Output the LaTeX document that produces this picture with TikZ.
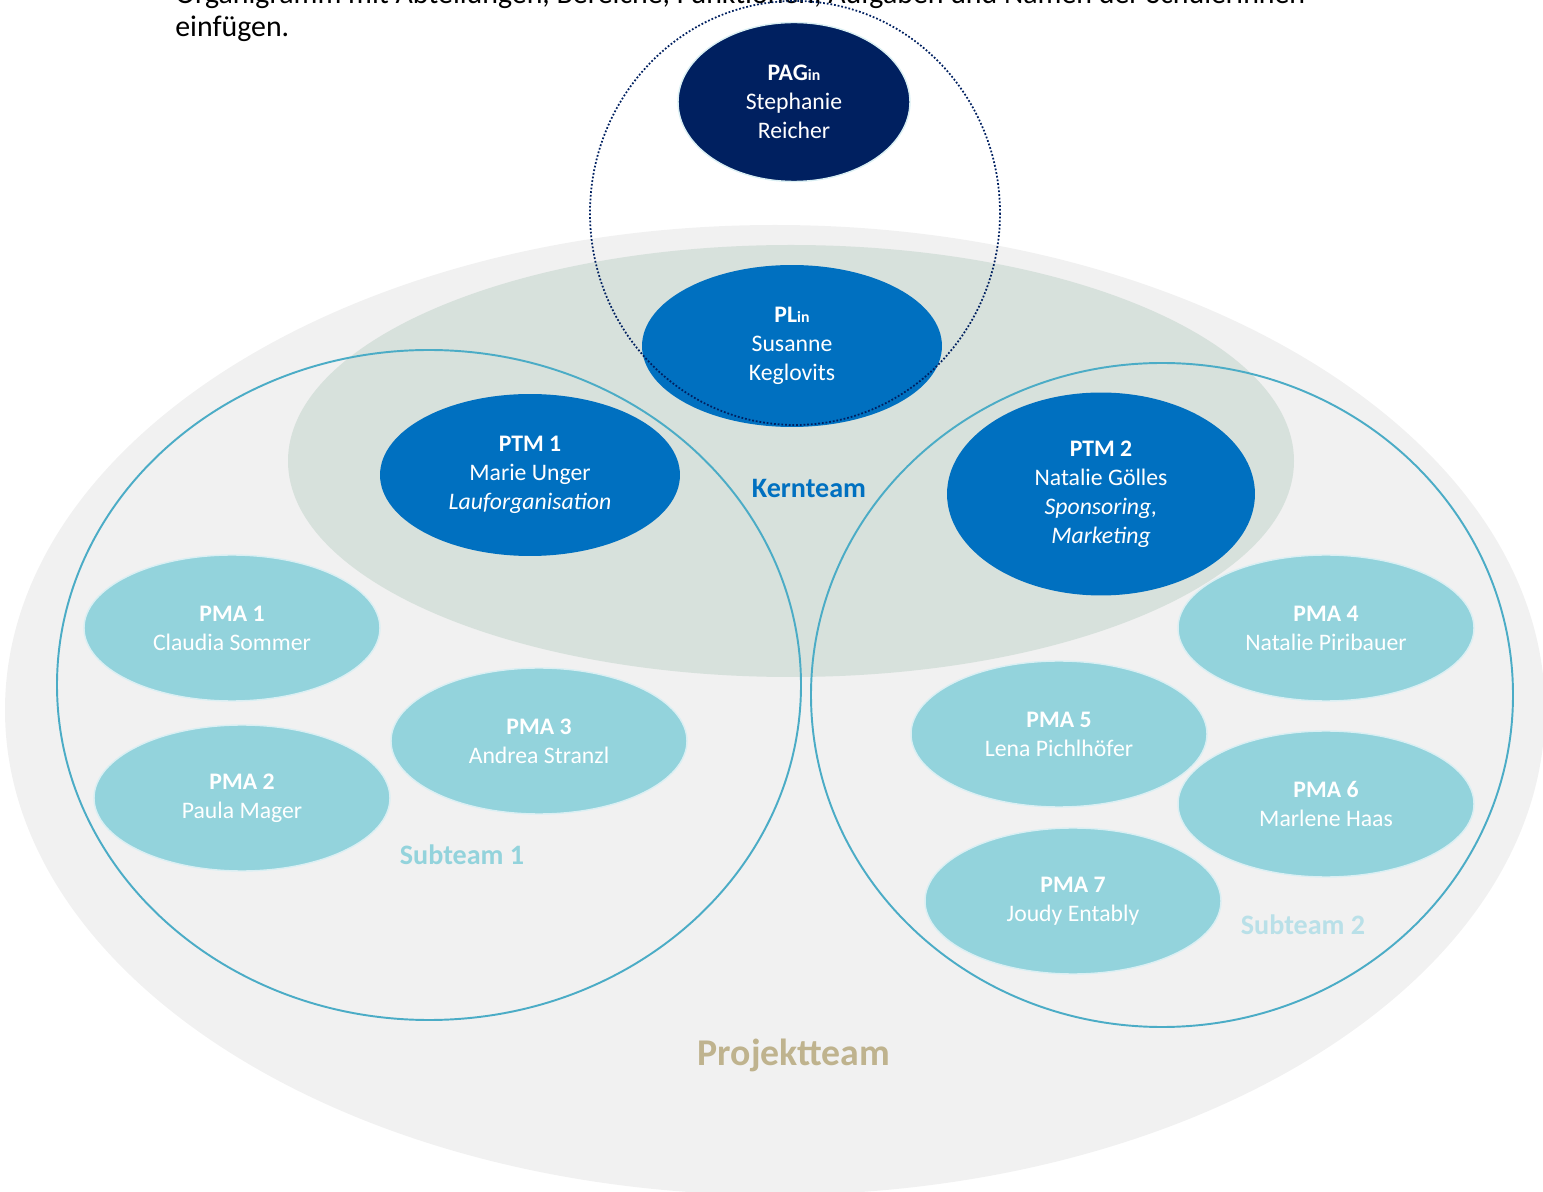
\documentclass[tikz,border=0pt]{standalone}
\usepackage{fontspec}
\setmainfont{Carlito}
\usepackage{tikz}
\usetikzlibrary{shapes.geometric}
\definecolor{pagblau}{HTML}{002060}
\definecolor{kernblau}{HTML}{0070C0}
\definecolor{pmafarbe}{HTML}{93D3DC}
\definecolor{pmarand}{HTML}{DAEFF3}
\definecolor{subrand}{HTML}{4BACC6}
\definecolor{subzwei}{HTML}{B9E0E8}
\definecolor{kerngrau}{HTML}{D7E1DC}
\definecolor{projgrau}{HTML}{F1F1F1}
\definecolor{projtext}{HTML}{BFB38E}

\begin{document}
\begin{tikzpicture}[x=0.02cm,y=-0.02cm,
  person/.style={ellipse,inner sep=0pt,align=center,text=white,
    font=\fontsize{13.5}{16.5}\selectfont},
  pag/.style={person,fill=pagblau,draw=pmarand,line width=0.8pt,
    minimum width=4.64cm,minimum height=3.18cm},
  ptm/.style={person,fill=kernblau,minimum width=6cm,minimum height=3.24cm},
  pma/.style={person,fill=pmafarbe,draw=pmarand,line width=0.8pt,
    minimum width=5.92cm,minimum height=2.92cm},
  teamlabel/.style={font=\fontsize{16}{19}\selectfont\bfseries},
  kopf/.style={anchor=base west,inner sep=0pt,font=\fontsize{17}{20}\selectfont}]
\useasboundingbox (0,0) rectangle (1543,1192);

% Kopfzeile
\node[kopf] (zeile1) at (175,4) {Organigramm mit Abteilungen, Bereiche, Funktionen, Aufgaben und Namen der Schülerinnen};
\node[kopf] (zeile2) at (175,37) {einfügen.};

% Teams
\fill[projgrau] (775,710) ellipse [x radius=770, y radius=485];
\fill[kerngrau] (791,461) ellipse [x radius=503, y radius=216];
\draw[subrand,line width=1.1pt] (429,685) ellipse [x radius=372, y radius=335];
\draw[subrand,line width=1.1pt] (1162,695) ellipse [x radius=351, y radius=332];

% Personen
\node[pag] (pag) at (794,102) {\textbf{PAG{\fontsize{9}{9}\selectfont in}}\\Stephanie\\Reicher};
\node[ptm] (pl) at (792,346) {\textbf{PL{\fontsize{9}{9}\selectfont in}}\\Susanne\\Keglovits};
\node[ptm] (ptm1) at (530,475) {\textbf{PTM 1}\\Marie Unger\\\textit{Lauforganisation}};
\node[ptm,minimum width=6.16cm,minimum height=4.06cm] (ptm2) at (1101,494)
  {\textbf{PTM 2}\\Natalie Gölles\\\textit{Sponsoring,}\\\textit{Marketing}};

\node[pma] (pma1) at (232,628) {\textbf{PMA 1}\\Claudia Sommer};
\node[pma] (pma2) at (242,798) {\textbf{PMA 2}\\Paula Mager};
\node[pma] (pma3) at (539,741) {\textbf{PMA 3}\\Andrea Stranzl};
\node[pma] (pma4) at (1326,628) {\textbf{PMA 4}\\Natalie Piribauer};
\node[pma] (pma5) at (1059,734) {\textbf{PMA 5}\\Lena Pichlhöfer};
\node[pma] (pma6) at (1326,804) {\textbf{PMA 6}\\Marlene Haas};
\node[pma] (pma7) at (1073,901) {\textbf{PMA 7}\\Joudy Entably};

% Auftraggeberin
\draw[pagblau,line width=1pt,dash pattern=on 1pt off 1.1pt] (795,213) ellipse [x radius=205, y radius=212];

% Beschriftungen
\node[teamlabel,text=kernblau] (kern) at (809,488) {Kernteam};
\node[teamlabel,text=pmafarbe] (sub1) at (462,855) {Subteam 1};
\node[teamlabel,text=subzwei] (sub2) at (1303,925) {Subteam 2};
\node[font=\fontsize{21.5}{25}\selectfont\bfseries,text=projtext] (proj) at (794,1055) {Projektteam};
\end{tikzpicture}
\end{document}
